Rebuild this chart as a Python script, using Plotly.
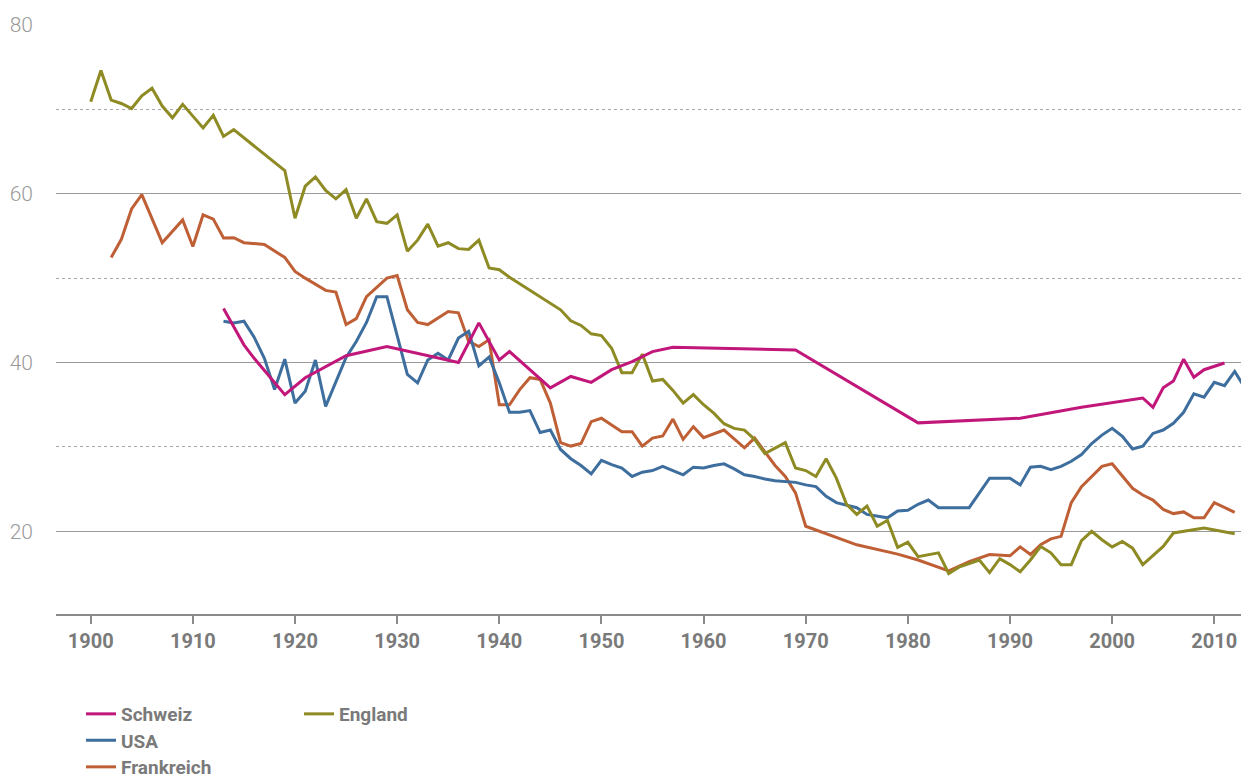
# plot.py
# Four country lines (Schweiz, USA, Frankreich, England), 1900-2013.

import plotly.graph_objects as go

# --- data ---
schweiz_years = [1913, 1915, 1916, 1919, 1921, 1925, 1929, 1936, 1938, 1940, 1941,
                 1945, 1947, 1949, 1951, 1953, 1955, 1957, 1969, 1981, 1991, 1997,
                 2003, 2004, 2005, 2006, 2007, 2008, 2009, 2011]
schweiz_values = [46.4, 42.1, 40.5, 36.2, 38.2, 40.8, 41.9, 40.0, 44.7, 40.3, 41.3,
                  37.0, 38.35, 37.65, 39.15, 40.1, 41.3, 41.8, 41.5, 32.85, 33.4, 34.7,
                  35.8, 34.7, 37.0, 37.8, 40.4, 38.25, 39.15, 39.95]

usa_years = [1913, 1914, 1915, 1916, 1917, 1918, 1919, 1920, 1921, 1922, 1923, 1925,
             1926, 1927, 1928, 1929, 1931, 1932, 1933, 1934, 1935, 1936, 1937, 1938,
             1939, 1940, 1941, 1942, 1943, 1944, 1945, 1946, 1947, 1948, 1949, 1950,
             1951, 1952, 1953, 1954, 1955, 1956, 1957, 1958, 1959, 1960, 1961, 1962,
             1963, 1964, 1965, 1966, 1967, 1969, 1970, 1971, 1972, 1973, 1975, 1976,
             1978, 1979, 1980, 1981, 1982, 1983, 1986, 1988, 1990, 1991, 1992, 1993,
             1994, 1995, 1996, 1997, 1998, 1999, 2000, 2001, 2002, 2003, 2004, 2005,
             2006, 2007, 2008, 2009, 2010, 2011, 2012, 2013, 2014]
usa_values = [44.9, 44.7, 44.9, 43.0, 40.5, 36.8, 40.4, 35.2, 36.6, 40.3, 34.8, 40.6,
              42.5, 44.75, 47.8, 47.8, 38.6, 37.6, 40.3, 41.1, 40.3, 42.9, 43.7, 39.6,
              40.65, 37.6, 34.1, 34.1, 34.3, 31.7, 32.0, 29.7, 28.6, 27.8, 26.8, 28.4,
              27.9, 27.5, 26.5, 27.0, 27.2, 27.7, 27.2, 26.7, 27.6, 27.5, 27.8, 28.0,
              27.4, 26.7, 26.5, 26.2, 26.0, 25.8, 25.5, 25.3, 24.15, 23.4, 22.8, 22.0,
              21.6, 22.4, 22.5, 23.2, 23.7, 22.8, 22.8, 26.3, 26.3, 25.5, 27.6, 27.7,
              27.3, 27.7, 28.3, 29.1, 30.4, 31.4, 32.2, 31.25, 29.75, 30.1, 31.6, 32.0,
              32.8, 34.1, 36.3, 35.9, 37.65, 37.25, 38.95, 37.0, 37.2]

frankreich_years = [1902, 1903, 1904, 1905, 1907, 1909, 1910, 1911, 1912, 1913, 1914,
                    1915, 1917, 1919, 1920, 1921, 1923, 1924, 1925, 1926, 1927, 1929,
                    1930, 1931, 1932, 1933, 1935, 1936, 1937, 1938, 1939, 1940, 1941,
                    1942, 1943, 1944, 1945, 1946, 1947, 1948, 1949, 1950, 1951, 1952,
                    1953, 1954, 1955, 1956, 1957, 1958, 1959, 1960, 1962, 1964, 1965,
                    1967, 1968, 1969, 1970, 1975, 1979, 1981, 1984, 1986, 1988, 1990,
                    1991, 1992, 1993, 1994, 1995, 1996, 1997, 1998, 1999, 2000, 2001,
                    2002, 2003, 2004, 2005, 2006, 2007, 2008, 2009, 2010, 2012]
frankreich_values = [52.45, 54.6, 58.2, 59.9, 54.2, 56.9, 53.75, 57.5, 57.0, 54.75, 54.8,
                     54.2, 54.0, 52.45, 50.8, 50.0, 48.55, 48.35, 44.5, 45.2, 47.8, 50.0,
                     50.3, 46.25, 44.75, 44.5, 46.05, 45.9, 42.5, 41.9, 42.7, 35.0, 35.0,
                     36.8, 38.2, 38.0, 35.2, 30.5, 30.1, 30.4, 33.0, 33.4, 32.6, 31.8,
                     31.8, 30.1, 31.05, 31.3, 33.3, 30.9, 32.4, 31.1, 32.0, 29.9, 31.05,
                     27.8, 26.5, 24.55, 20.6, 18.4, 17.3, 16.6, 15.3, 16.4, 17.25, 17.1,
                     18.15, 17.25, 18.4, 19.1, 19.4, 23.4, 25.3, 26.5, 27.7, 28.0, 26.5,
                     25.1, 24.3, 23.7, 22.6, 22.1, 22.3, 21.6, 21.6, 23.4, 22.25]

england_years = [1900, 1901, 1902, 1903, 1904, 1905, 1906, 1907, 1908, 1909, 1910,
                 1911, 1912, 1913, 1914, 1919, 1920, 1921, 1922, 1923, 1924, 1925,
                 1926, 1927, 1928, 1929, 1930, 1931, 1932, 1933, 1934, 1935, 1936,
                 1937, 1938, 1939, 1940, 1941, 1946, 1947, 1948, 1949, 1950, 1951,
                 1952, 1953, 1954, 1955, 1956, 1957, 1958, 1959, 1960, 1961, 1962,
                 1963, 1964, 1965, 1966, 1968, 1969, 1970, 1971, 1972, 1973, 1974,
                 1975, 1976, 1977, 1978, 1979, 1980, 1981, 1983, 1984, 1985, 1987,
                 1988, 1989, 1990, 1991, 1992, 1993, 1994, 1995, 1996, 1997, 1998,
                 1999, 2000, 2001, 2002, 2003, 2005, 2006, 2009, 2012]
england_values = [70.9, 74.6, 71.1, 70.7, 70.1, 71.6, 72.5, 70.4, 69.0, 70.6, 69.2,
                  67.8, 69.3, 66.8, 67.6, 62.75, 57.1, 60.9, 62.0, 60.4, 59.4, 60.5,
                  57.1, 59.4, 56.7, 56.5, 57.5, 53.2, 54.5, 56.4, 53.8, 54.2, 53.5,
                  53.4, 54.5, 51.2, 51.0, 50.1, 46.25, 44.95, 44.4, 43.4, 43.2, 41.7,
                  38.8, 38.8, 41.0, 37.8, 38.0, 36.7, 35.2, 36.2, 35.0, 34.0, 32.75,
                  32.2, 32.0, 30.9, 29.2, 30.5, 27.5, 27.2, 26.5, 28.6, 26.3, 23.2,
                  22.0, 23.0, 20.6, 21.3, 18.1, 18.7, 17.0, 17.45, 15.0, 15.75, 16.6,
                  15.1, 16.75, 16.05, 15.2, 16.6, 18.2, 17.45, 16.05, 16.05, 18.9, 20.0,
                  19.0, 18.15, 18.8, 18.0, 16.05, 18.2, 19.8, 20.4, 19.7]

x_ticks = [1900, 1910, 1920, 1930, 1940, 1950, 1960, 1970, 1980, 1990, 2000, 2010]
y_ticks = [20, 40, 60, 80]

MAGENTA = "#C2177A"
BLUE = "#3D6E9E"
RUST = "#BF5F36"
OLIVE = "#8E8A24"

TEXT_GREY = "#7A7A7A"
LIGHT_GREY = "#9A9A9A"
FONT = "Roboto"

# the page body has an 8px margin, so the figure is 8px smaller each way
W, H = 1241, 768

fig = go.Figure()


# one line per country, each with its own legend box so the boxes can be
# placed like the reference (two columns, uneven)
def add_line(years, values, name, colour, legend):
    fig.add_trace(go.Scatter(
        x=years, y=values, name=name,
        mode="lines",
        line=dict(color=colour, width=3),
        legend=legend,
        hoverinfo="x+y+name",
    ))


add_line(frankreich_years, frankreich_values, "Frankreich", RUST, "legend4")
add_line(usa_years, usa_values, "USA", BLUE, "legend3")
add_line(england_years, england_values, "England", OLIVE, "legend2")
add_line(schweiz_years, schweiz_values, "Schweiz", MAGENTA, "legend")

legend_font = dict(family=FONT, size=19, color=TEXT_GREY, weight="bold")


def legend_box(left, top):
    return dict(
        x=left / W, xref="container", xanchor="left",
        y=1 - top / H, yref="container", yanchor="top",
        orientation="v", font=legend_font, bgcolor="rgba(0,0,0,0)",
    )


fig.update_layout(
    width=W, height=H,
    # autoexpand off so the legends below don't push the plot around
    margin=dict(l=48, r=0, t=17, b=162, autoexpand=False),
    plot_bgcolor="white",
    paper_bgcolor="white",
    showlegend=True,
    legend=legend_box(73, 687),
    legend2=legend_box(291, 687),
    legend3=legend_box(73, 713.5),
    legend4=legend_box(73, 740),
)

fig.update_xaxes(
    range=[1896.6, 2013.4],
    tickvals=x_ticks,
    showgrid=False, zeroline=False,
    showline=True, linecolor="#8A8A8A", linewidth=2,
    ticks="outside", ticklen=8, tickwidth=2, tickcolor="#8A8A8A",
    tickfont=dict(family=FONT, size=20, color=TEXT_GREY, weight="bold"),
)

# solid grid every 20, dotted grid in between
fig.update_yaxes(
    range=[10.2, 80],
    tickvals=y_ticks,
    showgrid=True, gridcolor="#9A9A9A", gridwidth=1,
    zeroline=False, showline=False, ticks="",
    ticklabelstandoff=22,
    tickfont=dict(family=FONT, size=21, color=LIGHT_GREY, weight=300),
    minor=dict(dtick=10, tick0=0, showgrid=True, gridcolor="#A8A8A8",
               griddash="dot", gridwidth=1),
)

fig.write_html("out.html")
